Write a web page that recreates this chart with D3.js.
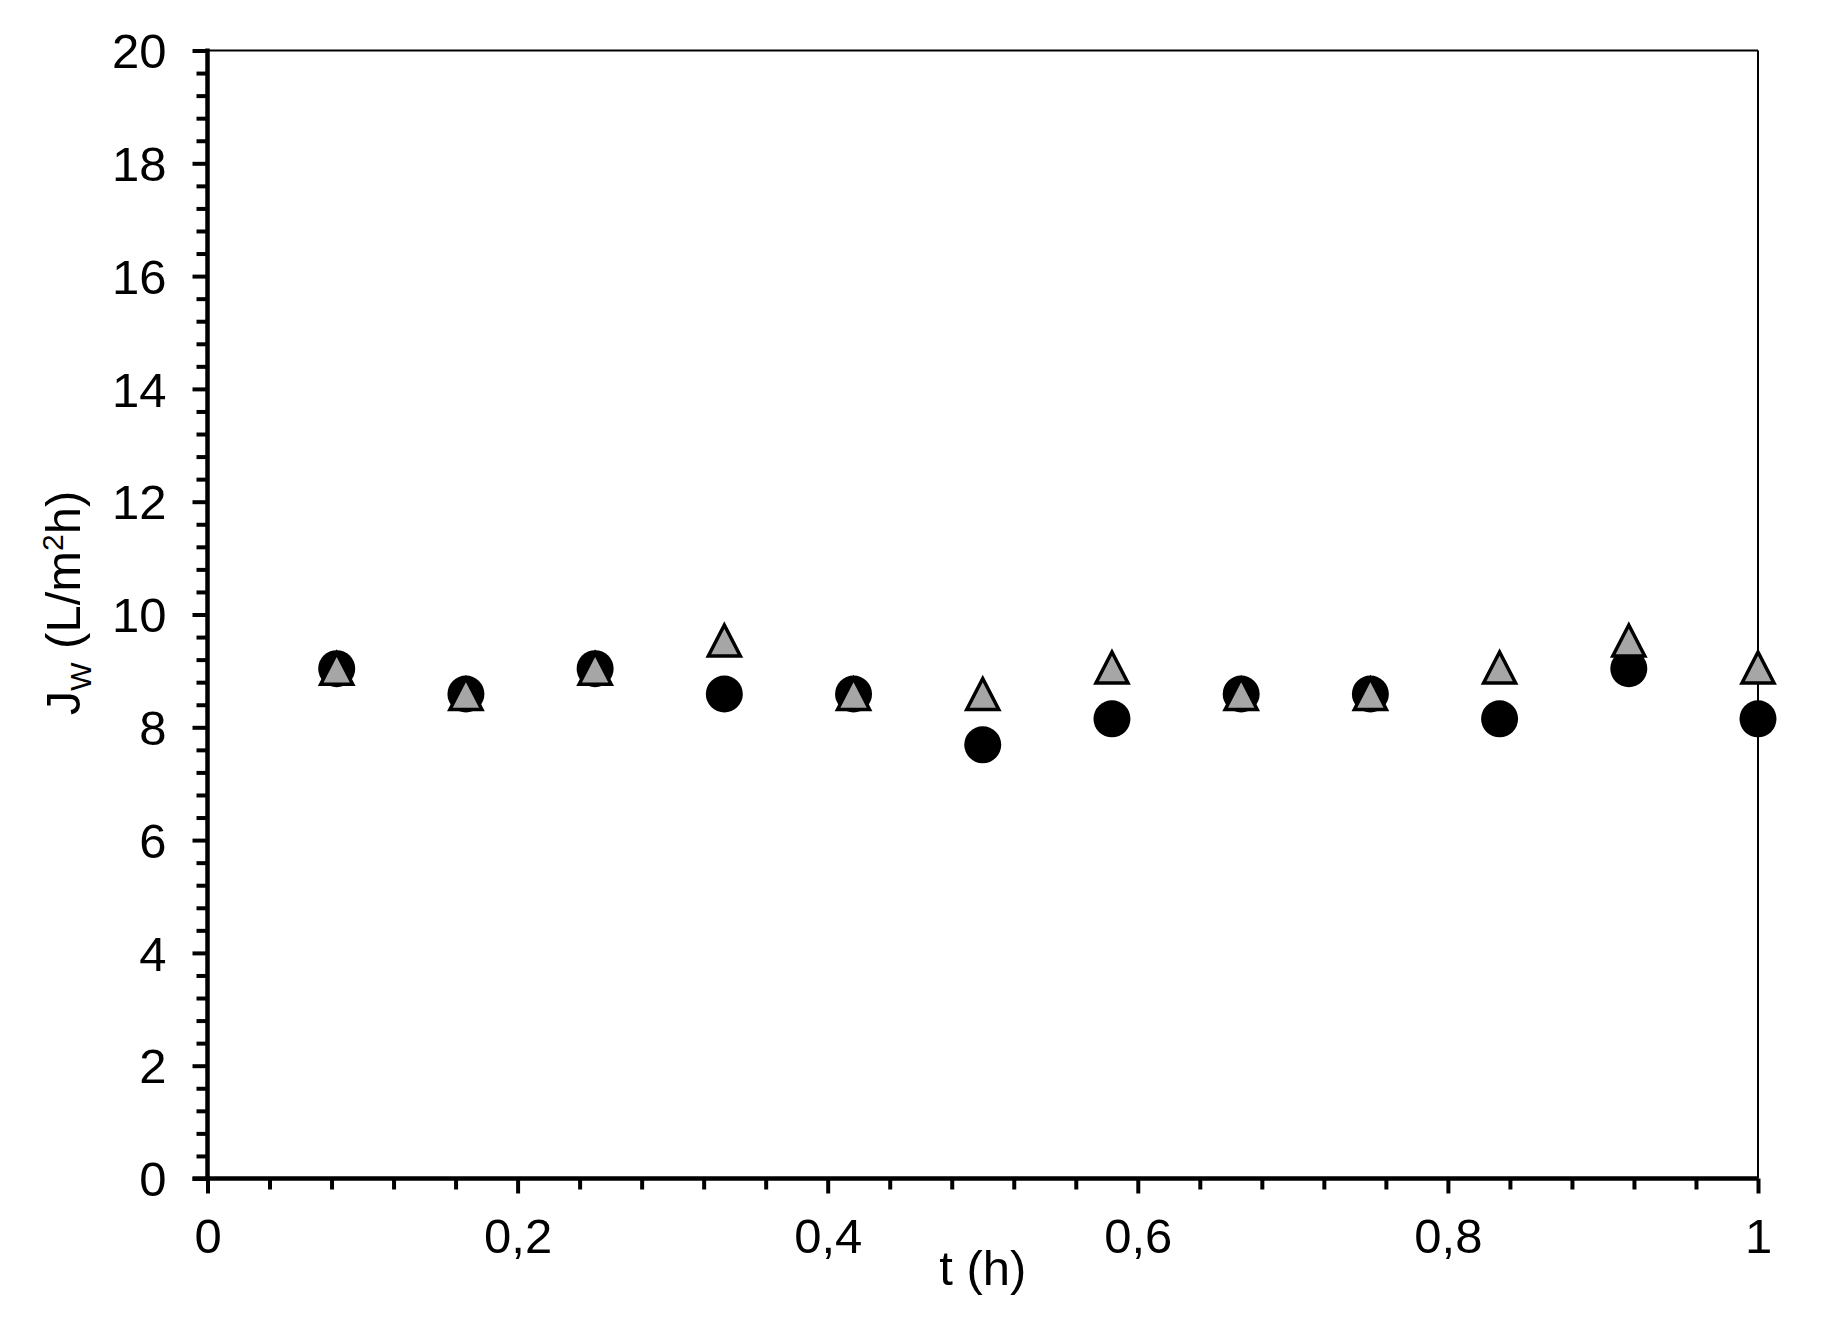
<!DOCTYPE html>
<html>
<head>
<meta charset="utf-8">
<script src="https://cdn.jsdelivr.net/npm/d3@7"></script>
<style>
  body { margin: 0; background: #fff; }
  text { font-family: "Liberation Sans", Arial, sans-serif; fill: #000; }
</style>
</head>
<body>
<svg id="chart" width="1826" height="1342"></svg>
<script>
// time points (h)
var times = [1/12, 2/12, 3/12, 4/12, 5/12, 6/12, 7/12, 8/12, 9/12, 10/12, 11/12, 1]
// flux, circle series
var circleVals = [9.04, 8.59, 9.04, 8.59, 8.59, 7.69, 8.15, 8.59, 8.59, 8.15, 9.04, 8.15]
// flux, triangle series
var triangleVals = [9.04, 8.59, 9.04, 9.54, 8.59, 8.59, 9.06, 8.59, 8.59, 9.06, 9.54, 9.06]

var xMajor = [0, 0.2, 0.4, 0.6, 0.8, 1]
var yMajor = [0, 2, 4, 6, 8, 10, 12, 14, 16, 18, 20]

var svg = d3.select("svg#chart")
var plotL = 207.5, plotT = 50.5, plotR = 1758, plotB = 1178.5

var x = d3.scaleLinear().domain([0, 1]).range([plotL, plotR])
var y = d3.scaleLinear().domain([0, 20]).range([plotB, plotT])

var fmt = function(d) { return String(d).replace(".", ",") }

// minor ticks
var xMinor = d3.range(0, 1.0001, 0.04).filter(function(d) { return Math.abs(d * 5 - Math.round(d * 5)) > 1e-6 })
var yMinor = d3.range(0, 20.0001, 0.4).filter(function(d) { return Math.abs(d / 2 - Math.round(d / 2)) > 1e-6 })

// frame (top + right thin)
svg.append("line").attr("x1", plotL).attr("x2", plotR).attr("y1", plotT).attr("y2", plotT)
    .attr("stroke", "#000").attr("stroke-width", 2)
svg.append("line").attr("x1", plotR).attr("x2", plotR).attr("y1", plotT).attr("y2", plotB)
    .attr("stroke", "#000").attr("stroke-width", 2)

// y axis
var yAxis = svg.append("g").attr("transform", "translate(" + plotL + ",0)")
yAxis.append("g").call(d3.axisLeft(y).tickValues(yMinor).tickSize(11).tickFormat(""))
yAxis.append("g").call(d3.axisLeft(y).tickValues(yMajor).tickSize(15).tickPadding(26).tickFormat(fmt))
yAxis.selectAll(".domain").remove()
yAxis.selectAll("line").attr("stroke", "#000").attr("stroke-width", 4)
yAxis.selectAll("text").style("font-size", "49px").attr("dy", "0.35em")

// x axis
var xAxis = svg.append("g").attr("transform", "translate(0," + plotB + ")")
xAxis.append("g").call(d3.axisBottom(x).tickValues(xMinor).tickSize(11).tickFormat(""))
xAxis.append("g").call(d3.axisBottom(x).tickValues(xMajor).tickSize(15).tickPadding(25).tickFormat(fmt))
xAxis.selectAll(".domain").remove()
xAxis.selectAll("line").attr("stroke", "#000").attr("stroke-width", 4)
xAxis.selectAll("text").style("font-size", "49px")

// axis lines (thick)
svg.append("line").attr("x1", plotL).attr("x2", plotL).attr("y1", plotT - 2).attr("y2", plotB + 2)
    .attr("stroke", "#000").attr("stroke-width", 4.5)
svg.append("line").attr("x1", plotL - 15).attr("x2", plotR).attr("y1", plotB).attr("y2", plotB)
    .attr("stroke", "#000").attr("stroke-width", 4.5)

// axis titles
svg.append("text").attr("x", (plotL + plotR) / 2).attr("y", 1285)
    .attr("text-anchor", "middle").style("font-size", "49px").text("t (h)")

var yt = svg.append("text").attr("transform", "translate(80,603) rotate(-90)")
    .attr("text-anchor", "middle").style("font-size", "49px")
yt.append("tspan").text("J")
yt.append("tspan").attr("dy", 11).style("font-size", "30px").text("W")
yt.append("tspan").attr("dy", -11).text(" (L/m")
yt.append("tspan").attr("dy", -17).style("font-size", "30px").text("2")
yt.append("tspan").attr("dy", 17).text("h)")

// points
var pts = svg.append("g")
pts.selectAll("circle").data(times).enter().append("circle")
    .attr("cx", function(d) { return x(d) })
    .attr("cy", function(d, i) { return y(circleVals[i]) })
    .attr("r", 18.5)
    .attr("fill", "#000")

var triPath = d3.line()([[0, -15.5], [16, 15.5], [-16, 15.5]]) + "Z"
pts.selectAll("path").data(times).enter().append("path")
    .attr("d", triPath)
    .attr("transform", function(d, i) { return "translate(" + x(d) + "," + y(triangleVals[i]) + ")" })
    .attr("fill", "#a6a6a6")
    .attr("stroke", "#000")
    .attr("stroke-width", 3.5)
    .attr("stroke-linejoin", "miter")
</script>
</body>
</html>
